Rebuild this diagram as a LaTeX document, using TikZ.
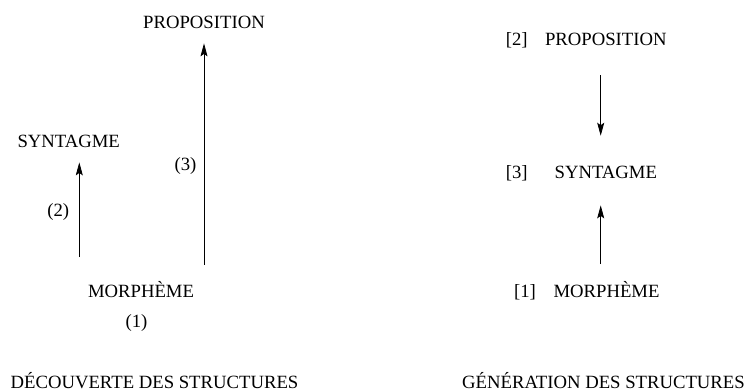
\documentclass[tikz,border=0pt]{standalone}
\usepackage{fontspec}
\setmainfont{Liberation Serif}
\usetikzlibrary{arrows.meta}

\tikzset{
  mot/.style={inner sep=0pt, anchor=base, font=\fontsize{18.7}{20}\selectfont},
  fleche/.style={-{Stealth[length=13pt, width=7pt, inset=2.5pt]}, line width=0.8pt},
}

\begin{document}
\begin{tikzpicture}[x=1pt, y=-1pt]
  \useasboundingbox (0,0) rectangle (746,391);

  % Decouverte des structures
  \node[mot] (propL) at (204,28) {PROPOSITION};
  \node[mot] (syntL) at (68.7,147) {SYNTAGME};
  \node[mot] (morphL) at (141,297) {MORPHÈME};
  \node[mot] (n1) at (136.5,327.4) {(1)};
  \node[mot] (n2) at (58.3,216.4) {(2)};
  \node[mot] (n3) at (185.5,170.4) {(3)};
  \node[mot] (titreL) at (154.5,388) {DÉCOUVERTE DES STRUCTURES};

  \coordinate (pied2) at (79.3,257);
  \draw[fleche, shorten <=16pt, shorten >=15pt] (propL.south |- morphL.north) -- (propL.south);
  \draw[fleche, shorten >=15pt] (pied2) -- (pied2 |- syntL.south);

  % Generation des structures
  \node[mot] (b2) at (516.7,45) {[2]};
  \node[mot] (propR) at (605.8,45) {PROPOSITION};
  \node[mot] (b3) at (516.7,178.3) {[3]};
  \node[mot] (syntR) at (605.8,178.3) {SYNTAGME};
  \node[mot] (b1) at (525,297) {[1]};
  \node[mot] (morphR) at (606.5,297) {MORPHÈME};
  \node[mot, anchor=base east] (titreR) at (745,388) {GÉNÉRATION DES STRUCTURES};

  \draw[fleche, shorten <=30pt, shorten >=30pt] ([xshift=-5.1pt]propR.south) -- ([xshift=-5.1pt]syntR.north);
  \draw[fleche, shorten <=16.7pt, shorten >=26.7pt] ([xshift=-5.8pt]morphR.north) -- ([xshift=-5.1pt]syntR.south);
\end{tikzpicture}
\end{document}
